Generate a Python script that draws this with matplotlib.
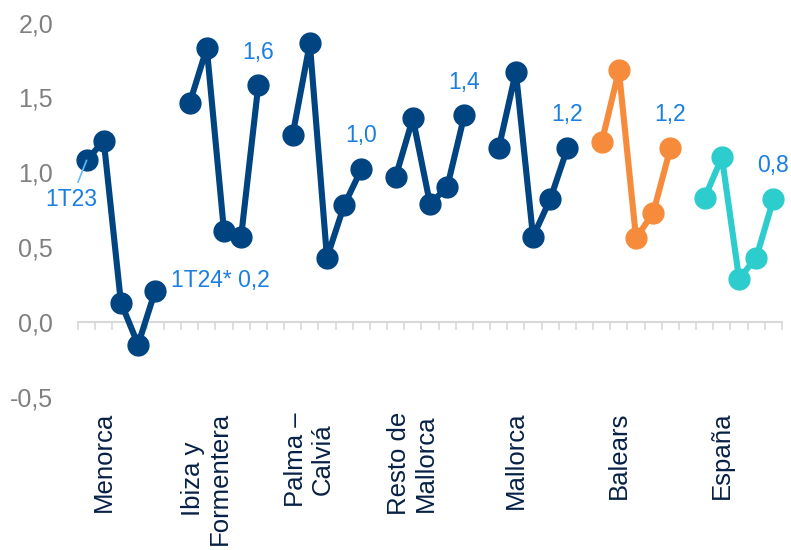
import matplotlib.pyplot as plt
import numpy as np

plt.rcParams['font.family'] = ['Liberation Sans', 'DejaVu Sans']

# data: 1T23 .. 1T24* per region
regions = ['Menorca', 'Ibiza y\nFormentera', 'Palma –\nCalviá', 'Resto de\nMallorca',
           'Mallorca', 'Balears', 'España']
menorca = [1.08, 1.21, 0.13, -0.15, 0.21]
ibiza = [1.46, 1.83, 0.61, 0.57, 1.58]
palma = [1.25, 1.86, 0.43, 0.78, 1.02]
resto = [0.97, 1.36, 0.79, 0.90, 1.38]
mallorca = [1.16, 1.67, 0.57, 0.82, 1.16]
balears = [1.20, 1.68, 0.56, 0.73, 1.16]
espana = [0.83, 1.10, 0.29, 0.43, 0.82]
series = [menorca, ibiza, palma, resto, mallorca, balears, espana]

navy = '#004481'
colors = [navy, navy, navy, navy, navy, '#F78B3C', '#2DCCCD']
label_blue = '#1a7fe0'

fig = plt.figure(figsize=(7.91, 5.5), dpi=100)
ax = fig.add_axes([78 / 791, 153 / 550, 704 / 791, 374.5 / 550])

n = len(series[0])
step = n + 1
for k, (vals, col) in enumerate(zip(series, colors)):
    x = k * step + np.arange(n)
    ax.plot(x, vals, color=col, lw=4.4, marker='o', ms=15, clip_on=False,
            solid_capstyle='round', zorder=3)
    last = f'{vals[-1]:.1f}'.replace('.', ',')
    if k == 0:
        ax.annotate('1T24* ' + last, (x[-1], vals[-1]), xytext=(11, 7),
                    textcoords='offset points', ha='left', va='center',
                    fontsize=16.5, color=label_blue)
    else:
        ax.annotate(last, (x[-1], vals[-1]), xytext=(0, 24),
                    textcoords='offset points', ha='center', va='center',
                    fontsize=16.5, color=label_blue)

# first-point label with leader line
ax.annotate('1T23', (0, menorca[0]), xytext=(-11, -28), textcoords='offset points',
            ha='center', va='center', fontsize=16.5, color=label_blue,
            arrowprops=dict(arrowstyle='-', color='#5BBEFF', lw=1.2,
                            shrinkA=2, shrinkB=0))

total = len(series) * step - 1
ax.set_xlim(-0.5, total - 0.5)
ax.set_ylim(-0.5, 2.0)

yt = np.arange(-0.5, 2.01, 0.5)
ax.set_yticks(yt)
ax.set_yticklabels([f'{v:.1f}'.replace('.', ',') for v in yt], fontsize=18, color='#808080')
ax.tick_params(axis='y', length=0, pad=18)

ax.set_xticks(np.arange(-0.5, total, 1.0))
ax.set_xticklabels([])
ax.tick_params(axis='x', direction='out', length=6, width=1.2, color='#D9D9D9')

for s in ['top', 'right', 'left']:
    ax.spines[s].set_visible(False)
ax.spines['bottom'].set_position(('data', 0))
ax.spines['bottom'].set_color('#D9D9D9')
ax.spines['bottom'].set_linewidth(1.5)

for k, name in enumerate(regions):
    ax.text(k * step + 1, -0.6, name, rotation=90, ha='center', va='top',
            multialignment='center', fontsize=18.5, color='#072146',
            linespacing=1.15, clip_on=False)

fig.savefig('out.png', dpi=100)
